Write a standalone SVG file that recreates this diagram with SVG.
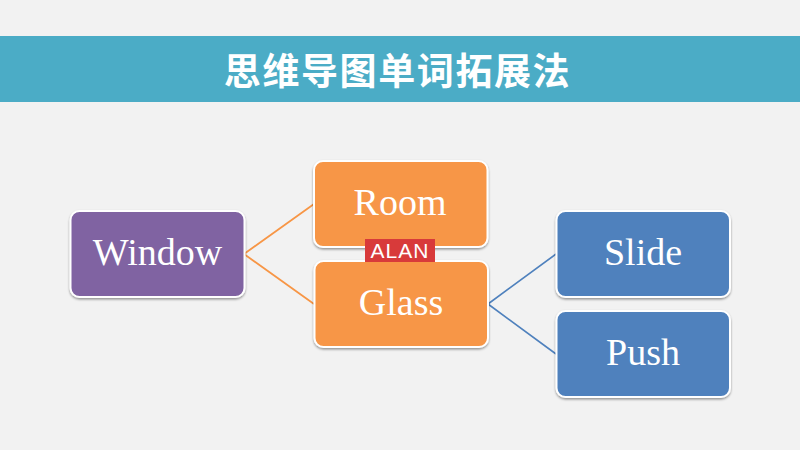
<svg xmlns="http://www.w3.org/2000/svg" width="800" height="450" viewBox="0 0 800 450">
<defs>
<filter id="sh" x="-10%" y="-10%" width="120%" height="125%"><feDropShadow dx="0" dy="1.5" stdDeviation="1.2" flood-color="#000" flood-opacity="0.4"/></filter>
</defs>
<style>
.box{stroke:#fff;stroke-width:2;filter:url(#sh)}
.purple{fill:#8064a2}.orange{fill:#f79646}.blue{fill:#4f81bd}
.lbl{font-family:"Liberation Serif",serif;font-size:38px;fill:#fff;text-anchor:middle}
.o{stroke:#f79646;stroke-width:1.8;fill:none}.b{stroke:#4f81bd;stroke-width:1.6;fill:none}
</style>
<rect width="800" height="450" fill="#f2f2f2"/>
<rect id="banner" x="0" y="36" width="800" height="66" fill="#4bacc6"/>
<text x="397.500" y="85" font-family="'Noto Sans CJK SC',sans-serif" font-size="37" font-weight="700" fill="#fff" text-anchor="middle" letter-spacing="1.600">思维导图单词拓展法</text>
<g id="connectors">
<path class="o" d="M244 254L314 204M244 254L314 304"/>
<path class="b" d="M488 304L556 254M488 304L556 354"/>
</g>
<g id="window"><rect class="box purple" x="70.500" y="211" width="174" height="86" rx="9"/><text class="lbl" x="157.500" y="265">Window</text></g>
<g id="room"><rect class="box orange" x="314" y="161" width="173.500" height="86" rx="9"/><text class="lbl" x="400" y="215">Room</text></g>
<g id="glass"><rect class="box orange" x="314.500" y="261" width="173.500" height="86" rx="9"/><text class="lbl" x="401" y="315">Glass</text></g>
<g id="slide"><rect class="box blue" x="556.500" y="211" width="173.500" height="86" rx="9"/><text class="lbl" x="643" y="265">Slide</text></g>
<g id="push"><rect class="box blue" x="556.500" y="311" width="173.500" height="86" rx="9"/><text class="lbl" x="643" y="365">Push</text></g>
<g id="alan"><rect x="365" y="239" width="70" height="23" fill="#d83a3a"/><text x="400" y="258" font-family="'Liberation Sans',sans-serif" font-size="21" fill="#fff" text-anchor="middle" letter-spacing="1">ALAN</text></g>
</svg>
